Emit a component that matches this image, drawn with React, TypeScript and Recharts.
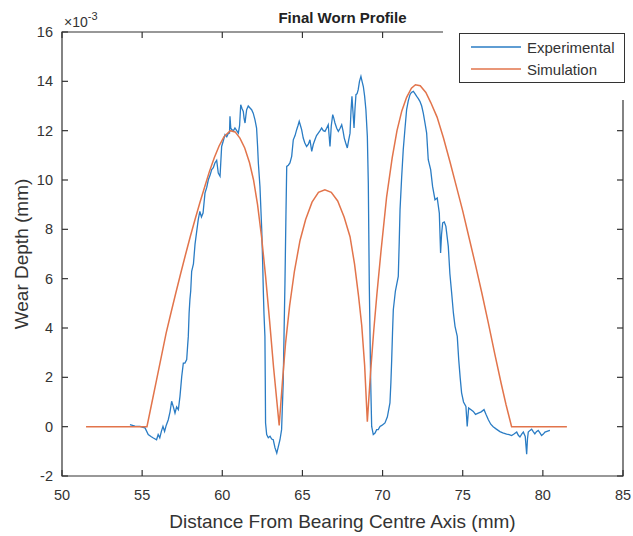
import React from 'react';
import { LineChart, Line, XAxis, YAxis, ReferenceArea } from 'recharts';

const X_TICKS = [50, 55, 60, 65, 70, 75, 80, 85];
const Y_TICKS = [-2, 0, 2, 4, 6, 8, 10, 12, 14, 16];

// wear depth values are in units of 1e-3 mm (axis shows x10^-3)
const simX = [
  51.5, 55.3, 55.6, 55.9, 56.2, 56.5, 56.8, 57.1, 57.4, 57.7, 58.0, 58.3, 58.6, 58.9, 59.2, 59.5, 59.8,
  60.1, 60.5, 60.8, 61.1, 61.4, 61.7, 61.95, 62.2, 62.45, 62.7, 62.95, 63.2, 63.55,
  63.75, 63.95, 64.2, 64.5, 64.85, 65.2, 65.6, 66.0, 66.4, 66.8, 67.2, 67.6, 67.97, 68.25, 68.5, 68.7,
  68.88, 69.05,
  69.25, 69.45, 69.65, 69.9, 70.25, 70.6, 70.9, 71.2, 71.5, 71.8, 72.05, 72.35, 72.7, 73.0, 73.4, 73.8,
  74.2, 74.6, 75.0, 75.4, 75.8, 76.2, 76.6, 77.0, 77.4, 77.7, 78.05, 81.5,
];
const simY = [
  0, 0, 0.95, 1.9, 2.85, 3.8, 4.62, 5.42, 6.2, 6.96, 7.7, 8.4, 9.08, 9.72, 10.35, 10.9, 11.38,
  11.75, 12.0, 11.95, 11.7, 11.3, 10.7, 10.0, 9.0, 7.7, 6.1, 4.3, 2.4, 0.05,
  1.8, 3.4, 4.9, 6.3, 7.55, 8.4, 9.1, 9.5, 9.6, 9.5, 9.15, 8.5, 7.7, 6.6, 5.3, 4.1,
  2.5, 0.2,
  2.2, 3.9, 5.4, 7.1, 9.3, 10.9, 12.0, 12.8, 13.35, 13.72, 13.86, 13.82, 13.55, 13.15, 12.55, 11.7,
  10.75, 9.75, 8.75, 7.65, 6.55, 5.4, 4.2, 2.95, 1.75, 0.9, 0, 0,
];

const expX = [
  54.24, 54.55, 54.87, 55.05, 55.18, 55.38, 55.55, 55.7, 55.9, 56.0, 56.1, 56.2, 56.3, 56.4, 56.5, 56.63,
  56.74, 56.84, 56.94, 57.05, 57.15, 57.26, 57.36, 57.47, 57.57, 57.67, 57.78, 57.84, 57.88, 57.93, 57.98,
  58.03, 58.09, 58.2, 58.3, 58.4, 58.5, 58.6, 58.7, 58.8, 58.92, 59.03, 59.13, 59.24, 59.34, 59.44, 59.54,
  59.65, 59.75, 59.86, 59.96, 60.07, 60.17, 60.28, 60.38, 60.45, 60.48, 60.53, 60.59, 60.7, 60.79, 60.9,
  61.0, 61.08, 61.15, 61.23, 61.31, 61.36, 61.42, 61.47, 61.52, 61.62, 61.73, 61.83, 61.93, 62.04, 62.14,
  62.2, 62.25, 62.35, 62.46, 62.52, 62.56, 62.6, 62.66, 62.68, 62.7, 62.77, 62.87, 62.98, 63.08, 63.18,
  63.29, 63.4, 63.5, 63.6, 63.7, 63.8, 63.86, 63.91, 63.97, 64.02, 64.12, 64.22, 64.33, 64.43, 64.54,
  64.64, 64.72, 64.8, 64.88, 64.95, 65.05, 65.15, 65.26, 65.37, 65.47, 65.58, 65.68, 65.78, 65.88, 65.99,
  66.1, 66.2, 66.3, 66.41, 66.51, 66.61, 66.72, 66.8, 66.89, 66.96, 67.03, 67.14, 67.24, 67.35, 67.45,
  67.53, 67.61, 67.7, 67.8, 67.88, 67.97, 68.03, 68.09, 68.15, 68.22, 68.28, 68.34, 68.41, 68.48, 68.56,
  68.65, 68.72, 68.8, 68.88, 68.96, 69.05, 69.11, 69.17, 69.26, 69.32, 69.42, 69.53, 69.63, 69.73, 69.84,
  69.95, 70.05, 70.15, 70.3, 70.46, 70.52, 70.57, 70.62, 70.67, 70.8, 70.98, 71.04, 71.09, 71.19, 71.29,
  71.4, 71.5, 71.6, 71.71, 71.8, 71.92, 72.02, 72.13, 72.23, 72.33, 72.44, 72.54, 72.65, 72.75, 72.85,
  73.0, 73.12, 73.27, 73.41, 73.54, 73.62, 73.68, 73.75, 73.85, 73.95, 74.1, 74.2, 74.31, 74.42, 74.52,
  74.66, 74.75, 74.84, 74.93, 75.05, 75.2, 75.28, 75.37, 75.5, 75.66, 75.8, 75.97, 76.15, 76.33, 76.45,
  76.6, 76.75, 76.9, 77.1, 77.32, 77.5, 77.74, 77.9, 78.05, 78.2, 78.37, 78.47, 78.57, 78.68, 78.78,
  78.9, 78.99, 79.04, 79.09, 79.2, 79.3, 79.4, 79.5, 79.6, 79.71, 79.82, 79.92, 80.03, 80.13, 80.3, 80.44,
];
const expY = [
  0.08, 0.02, 0.01, -0.03, -0.05, -0.32, -0.4, -0.46, -0.53, -0.32, -0.45, -0.19, 0.01, -0.19, 0.05, 0.28,
  0.6, 1.03, 0.82, 0.55, 0.8, 0.69, 1.23, 2.04, 2.58, 2.58, 2.72, 3.3, 3.66, 4.6, 5.15,
  5.5, 6.3, 6.6, 7.4, 7.9, 8.39, 8.73, 8.5, 8.66, 9.47, 9.7, 10.01, 10.2, 10.42, 10.5, 10.69,
  10.8, 10.28, 10.15, 11.36, 11.6, 11.84, 11.75, 11.9, 11.9, 12.58, 12.1, 12.04, 12.0, 12.11, 12.0,
  11.9, 12.2, 13.05, 12.9, 12.78, 12.5, 12.31, 12.6, 12.85, 13.0, 12.92, 12.85, 12.71, 12.44, 12.1,
  11.4, 10.69, 9.74, 8.0, 6.63, 5.5, 4.6, 3.66, 2.0, 0.15, -0.32, -0.45, -0.39, -0.5, -0.53,
  -0.86, -1.07, -0.8, -0.53, -0.12, 1.77, 4.0, 5.82, 8.5, 10.55, 10.6, 10.69, 10.96, 11.63, 11.8,
  12.04, 12.2, 12.38, 12.2, 12.04, 11.7, 11.5, 11.36, 11.45, 11.63, 11.16, 11.45, 11.63, 11.8, 11.9,
  12.0, 12.11, 12.0, 11.97, 12.1, 12.24, 11.36, 12.2, 12.65, 12.5, 12.31, 12.1, 11.97, 12.1, 12.24,
  12.0, 11.7, 11.5, 11.3, 11.6, 11.9, 12.8, 13.39, 12.8, 12.11, 12.9, 13.46, 13.5, 13.66, 14.0,
  14.2, 14.0, 13.79, 13.4, 12.85, 11.77, 9.88, 5.82, 1.77, 0.01, -0.32, -0.26, -0.12, -0.12, 0.01,
  0.05, 0.1, 0.15, 0.4, 0.96, 1.8, 2.72, 3.8, 4.74, 5.5, 6.09, 7.5, 8.8, 10.1, 11.23,
  12.1, 12.85, 13.2, 13.46, 13.55, 13.59, 13.5, 13.39, 13.3, 13.19, 13.0, 12.71, 12.3, 11.9, 10.82,
  10.42, 9.74, 9.2, 9.27, 8.66, 7.04, 7.8, 8.26, 8.3, 8.12, 7.31, 6.2, 5.42, 4.6, 4.07,
  3.66, 2.72, 2.0, 1.37, 1.0, 0.82, 0.01, 0.76, 0.7, 0.62, 0.5, 0.55, 0.6, 0.69, 0.5,
  0.28, 0.1, 0.0, -0.1, -0.2, -0.25, -0.3, -0.32, -0.36, -0.3, -0.22, -0.35, -0.42, -0.3, -0.22,
  -0.4, -1.12, -0.5, -0.22, -0.15, -0.1, -0.2, -0.29, -0.2, -0.15, -0.25, -0.36, -0.3, -0.22, -0.18, -0.15,
];

const simData = simX.map((x, i) => ({ x, y: simY[i] }));
const expData = expX.map((x, i) => ({ x, y: expY[i] }));

const FONT = '"Liberation Sans", Arial, Helvetica, sans-serif';
const AXIS = '#333';
const TEXT = '#333';
const BLUE = '#2a7cc4';
const ORANGE = '#e2744b';

const W = 633;
const H = 536;
const M = { top: 32, right: 10, bottom: 0, left: 0 };
const Y_AXIS_W = 62;
const X_AXIS_H = 60;
const X_MIN = 50, X_MAX = 85, Y_MIN = -2, Y_MAX = 16;

// tick marks: thin filled strips pointing into the box (sizes in px, turned into data units)
const TICK_PX = 6;
const TICK_W_PX = 1.2;
const plotW = W - M.left - M.right - Y_AXIS_W;
const plotH = H - M.top - M.bottom - X_AXIS_H;
const pxX = (X_MAX - X_MIN) / plotW;
const pxY = (Y_MAX - Y_MIN) / plotH;
const tickDx = TICK_PX * pxX;
const tickDy = TICK_PX * pxY;
const halfX = (TICK_W_PX / 2) * pxX;
const halfY = (TICK_W_PX / 2) * pxY;

const tickStyle = { fill: TEXT, fontSize: 14.5, fontFamily: FONT };
const tickFill = { fill: AXIS, fillOpacity: 1, stroke: 'none', ifOverflow: 'visible' as const };

export default function App() {
  return (
    <div style={{ position: 'absolute', left: 0, top: 0, width: W, height: H, background: '#fff', fontFamily: FONT }}>
      <LineChart width={W} height={H} margin={M}>
        <XAxis
          type="number"
          dataKey="x"
          domain={[X_MIN, X_MAX]}
          ticks={X_TICKS}
          allowDataOverflow
          height={X_AXIS_H}
          axisLine={false}
          tickLine={false}
          tickSize={0}
          tickMargin={14}
          tick={tickStyle}
        />
        <YAxis
          type="number"
          domain={[Y_MIN, Y_MAX]}
          ticks={Y_TICKS}
          allowDataOverflow
          width={Y_AXIS_W}
          axisLine={false}
          tickLine={false}
          tickSize={0}
          tickMargin={9}
          tick={tickStyle}
        />
        <ReferenceArea
          x1={X_MIN}
          x2={X_MAX}
          y1={Y_MIN}
          y2={Y_MAX}
          fill="none"
          fillOpacity={0}
          stroke={AXIS}
          strokeWidth={1.2}
          ifOverflow="visible"
        />
        {X_TICKS.map((t) => (
          <ReferenceArea key={`xb${t}`} x1={t - halfX} x2={t + halfX} y1={Y_MIN} y2={Y_MIN + tickDy} {...tickFill} />
        ))}
        {X_TICKS.map((t) => (
          <ReferenceArea key={`xt${t}`} x1={t - halfX} x2={t + halfX} y1={Y_MAX - tickDy} y2={Y_MAX} {...tickFill} />
        ))}
        {Y_TICKS.map((t) => (
          <ReferenceArea key={`yl${t}`} x1={X_MIN} x2={X_MIN + tickDx} y1={t - halfY} y2={t + halfY} {...tickFill} />
        ))}
        {Y_TICKS.map((t) => (
          <ReferenceArea key={`yr${t}`} x1={X_MAX - tickDx} x2={X_MAX} y1={t - halfY} y2={t + halfY} {...tickFill} />
        ))}
        <Line
          data={expData}
          dataKey="y"
          type="linear"
          stroke={BLUE}
          strokeWidth={1.3}
          dot={false}
          isAnimationActive={false}
        />
        <Line
          data={simData}
          dataKey="y"
          type="linear"
          stroke={ORANGE}
          strokeWidth={1.5}
          dot={false}
          isAnimationActive={false}
        />
      </LineChart>

      <div style={{ position: 'absolute', left: 0, top: 9, width: 685, textAlign: 'center', fontSize: 15, fontWeight: 'bold', color: '#222' }}>
        Final Worn Profile
      </div>
      <div style={{ position: 'absolute', left: 64, top: 11, fontSize: 14, color: TEXT, whiteSpace: 'nowrap' }}>
        ×10<sup style={{ fontSize: 11, position: 'relative', top: -1 }}>-3</sup>
      </div>
      <div style={{ position: 'absolute', left: 0, top: 511, width: 685, textAlign: 'center', fontSize: 19, color: TEXT }}>
        Distance From Bearing Centre Axis (mm)
      </div>
      <div
        style={{
          position: 'absolute',
          left: 22,
          top: 254,
          transform: 'translate(-50%, -50%) rotate(-90deg)',
          fontSize: 19,
          color: TEXT,
          whiteSpace: 'nowrap',
        }}
      >
        Wear Depth (mm)
      </div>

      <div style={{ position: 'absolute', left: 443, top: 0, width: 190, height: 100, background: '#fff' }} />
      <div
        style={{
          position: 'absolute',
          left: 459,
          top: 33,
          width: 166,
          height: 50,
          border: `1.5px solid ${AXIS}`,
          boxSizing: 'border-box',
          background: '#fff',
        }}
      >
        {[
          { name: 'Experimental', color: BLUE },
          { name: 'Simulation', color: ORANGE },
        ].map((item, i) => (
          <div key={item.name} style={{ position: 'absolute', left: 10, top: 3 + i * 22, height: 20, display: 'flex', alignItems: 'center' }}>
            <svg width={52} height={4} style={{ marginRight: 5 }}>
              <line x1={1} y1={2} x2={51} y2={2} stroke={item.color} strokeWidth={1.5} />
            </svg>
            <span style={{ fontSize: 15, color: TEXT }}>{item.name}</span>
          </div>
        ))}
      </div>
    </div>
  );
}
